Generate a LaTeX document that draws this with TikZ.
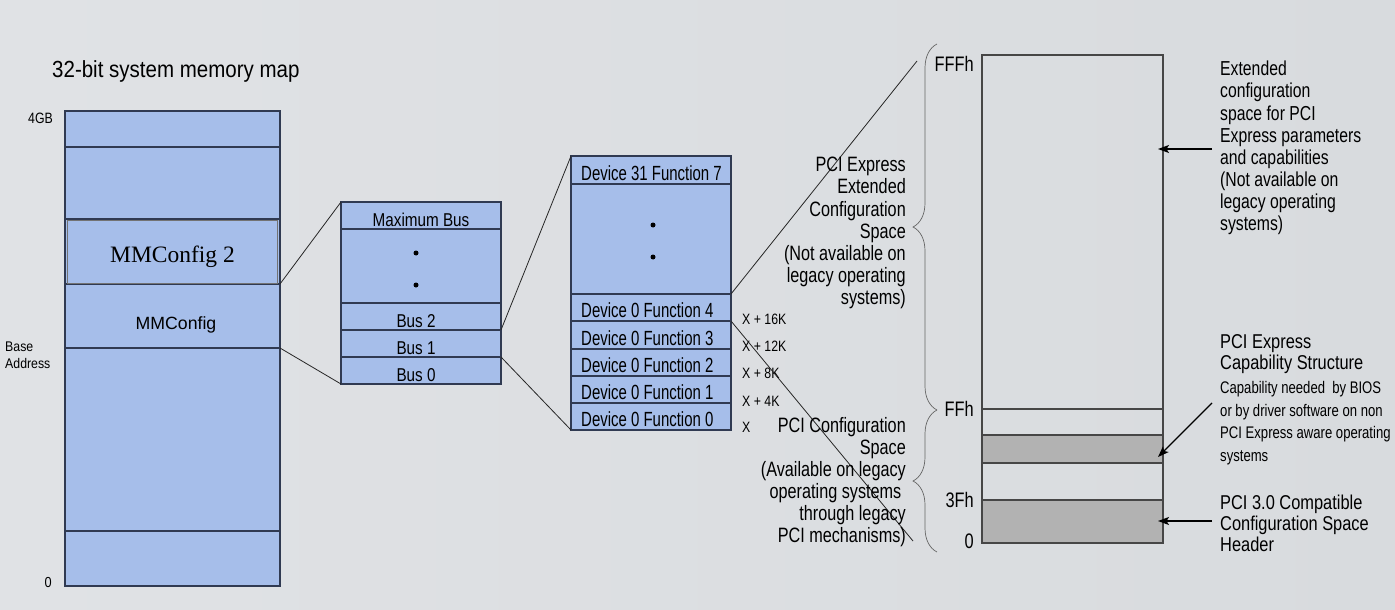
\documentclass[tikz,border=0pt]{standalone}
\usepackage{fontspec}
\setmainfont{Liberation Sans}
\newfontfamily\fA[FakeStretch=0.73]{Liberation Sans}
\newfontfamily\fB[FakeStretch=0.78]{Liberation Sans}
\newfontfamily\fC[FakeStretch=0.82]{Liberation Sans}
\newfontfamily\fD[FakeStretch=0.88]{Liberation Sans}
\newfontfamily\tms{Liberation Serif}
\usetikzlibrary{decorations.pathreplacing,arrows.meta}
\definecolor{memblue}{RGB}{166,190,234}
\definecolor{memedge}{RGB}{48,58,82}
\definecolor{cfgedge}{RGB}{70,70,70}
\definecolor{cfggray}{RGB}{178,178,178}
\definecolor{bgl}{RGB}{224,226,229}
\definecolor{bgm}{RGB}{243,243,243}
\definecolor{bgr}{RGB}{216,219,222}
\newcommand{\fsz}[2]{\fontsize{#1}{#2}\selectfont}
\newcommand{\rbox}[6]{\node[#1, minimum width={#5-#3}, minimum height={#6-#4}] (#2) at ({(#3+#5)/2},{(#4+#6)/2}) {};}
\begin{document}
\begin{tikzpicture}[x=1pt,y=-1pt,
  mem/.style={rectangle, draw=memedge, line width=1.1pt, fill=memblue, inner sep=0pt, outer sep=0pt},
  cfg/.style={rectangle, draw=cfgedge, line width=1.1pt, inner sep=0pt, outer sep=0pt},
  cfgg/.style={cfg, fill=cfggray},
  devtxt/.style={font=\fA\fsz{20.5}{24}, inner sep=0pt, anchor=base west},
  bustxt/.style={font=\fC\fsz{18.6}{22}, inner sep=0pt, anchor=base},
  xtxt/.style={font=\fC\fsz{15}{18}, inner sep=0pt, anchor=base west},
  hextxt/.style={font=\fB\fsz{21}{24}, inner sep=0pt, anchor=base east},
  link/.style={draw=black!85, line width=0.8pt},
  arr/.style={draw=black, line width=1.1pt, -{Stealth[length=11pt,width=8pt,inset=2.5pt]}},
  brc/.style={decorate, decoration={brace, amplitude=24pt}, draw=black!60, line width=0.7pt},
  lbl/.style={inner sep=0pt},
  dot/.style={circle, fill=black, inner sep=0pt, minimum size=5pt}]
\useasboundingbox (0,0) rectangle (1395,610);
\fill[left color=bgl, middle color=bgm, right color=bgr] (0,0) rectangle (1395,610);

% ---- 32-bit memory map
\node[lbl, anchor=north west, font=\fD\fsz{23.3}{27}] (title) at (52,60) {32-bit system memory map};
\rbox{mem}{m1}{65}{111}{280}{147}
\rbox{mem}{m2}{65}{147}{280}{219}
\rbox{mem}{m3}{65}{219}{280}{284}
\rbox{mem}{mmc}{65}{284}{280}{348}
\rbox{mem}{m5}{65}{348}{280}{531}
\rbox{mem}{m6}{65}{531}{280}{586}
\rbox{mem, draw=black!55, line width=0.9pt}{mmc2}{67.5}{220}{277.5}{283}
\node[lbl, anchor=base, font=\tms\fsz{23.5}{28}] (tmmc2) at (172.5,262) {MMConfig 2};
\node[lbl, anchor=base, font=\fsz{17.7}{21}] (tmmc) at (176,329) {MMConfig};
\node[lbl, anchor=north east, font=\fC\fsz{15}{18}] (l4gb) at (53,113) {4GB};
\node[lbl, anchor=north west, align=left, font=\fD\fsz{14}{17}] (lbase) at (5,342) {Base\\Address};
\node[lbl, anchor=north east, font=\fD\fsz{14.5}{17}] (lzero) at (52,577) {0};

% ---- buses
\rbox{mem}{bmax}{341}{202}{501}{229}
\rbox{mem}{bdots}{341}{229}{501}{303}
\rbox{mem}{b2}{341}{303}{501}{330}
\rbox{mem}{b1}{341}{330}{501}{357}
\rbox{mem}{b0}{341}{357}{501}{384}
\node[bustxt] (tbmax) at ([yshift=2.5pt]bmax.south) {Maximum Bus};
\node[bustxt] (tb2) at ([xshift=-5pt,yshift=3pt]b2.south) {Bus 2};
\node[bustxt] (tb1) at ([xshift=-5pt,yshift=3pt]b1.south) {Bus 1};
\node[bustxt] (tb0) at ([xshift=-5pt,yshift=3pt]b0.south) {Bus 0};
\node[dot] (bd1) at (416,253) {};
\node[dot] (bd2) at (416,285) {};

% ---- devices / functions
\rbox{mem}{d31}{571}{156}{731}{184}
\rbox{mem}{ddots}{571}{184}{731}{294}
\rbox{mem}{d4}{571}{294}{731}{321}
\rbox{mem}{d3}{571}{321}{731}{349}
\rbox{mem}{d2}{571}{349}{731}{376}
\rbox{mem}{d1}{571}{376}{731}{403}
\rbox{mem}{d0}{571}{403}{731}{430}
\node[devtxt] (td31) at ([xshift=10pt,yshift=4pt]d31.south west) {Device 31 Function 7};
\node[devtxt] (td4) at ([xshift=10pt,yshift=4pt]d4.south west) {Device 0 Function 4};
\node[devtxt] (td3) at ([xshift=10pt,yshift=4pt]d3.south west) {Device 0 Function 3};
\node[devtxt] (td2) at ([xshift=10pt,yshift=4pt]d2.south west) {Device 0 Function 2};
\node[devtxt] (td1) at ([xshift=10pt,yshift=4pt]d1.south west) {Device 0 Function 1};
\node[devtxt] (td0) at ([xshift=10pt,yshift=4pt]d0.south west) {Device 0 Function 0};
\node[dot] (dd1) at (653,225) {};
\node[dot] (dd2) at (653,257) {};
\node[xtxt] (x16) at (742,324) {X + 16K};
\node[xtxt] (x12) at (742,351) {X + 12K};
\node[xtxt] (x8) at (742,378) {X + 8K};
\node[xtxt] (x4) at (742,406) {X + 4K};
\node[xtxt] (x0) at (742,432) {X};

% ---- connectors
\draw[link] (m3.south east) -- (bmax.north west);
\draw[link] (mmc.south east) -- (b0.south west);
\draw[link] (b2.south east) -- (d31.north west);
\draw[link] (b1.south east) -- (d0.south west);
\coordinate (topend) at (917,61);
\coordinate (botend) at (913,541);
\draw[link] (d4.north east) -- (topend);
\draw[link] (d4.south east) -- (botend);

% ---- braces and their labels
\draw[brc] (937,410) -- (937,44);
\draw[brc] (937,552) -- (937,410);
\node[lbl, anchor=north east, align=right, font=\fB\fsz{20.8}{22.2}] (pcielbl) at (906,157)
  {PCI Express\\Extended\\Configuration\\Space\\(Not available on\\legacy operating\\systems)};
\node[lbl, anchor=north east, align=right, font=\fB\fsz{20.8}{22.1}] (pcilbl) at (906,417)
  {PCI Configuration\\Space\\(Available on legacy\\operating systems\kern4.5pt\\through legacy\\PCI mechanisms)};

% ---- configuration space
\rbox{cfg}{cext}{982}{55}{1163}{409}
\rbox{cfg}{cg1}{982}{409}{1163}{435}
\rbox{cfgg}{ccap}{982}{435}{1163}{463}
\rbox{cfg}{cg2}{982}{463}{1163}{500}
\rbox{cfgg}{chdr}{982}{500}{1163}{543}
\node[hextxt] (lfff) at (974,72) {FFFh};
\node[hextxt] (lff) at (974,416) {FFh};
\node[hextxt] (l3f) at (974,507) {3Fh};
\node[hextxt] (l0) at (974,548) {0};

% ---- right descriptions
\node[lbl, anchor=north west, align=left, font=\fB\fsz{20.2}{22.1}] (extlbl) at (1220,61)
  {Extended\\configuration\\space for PCI\\Express parameters\\and capabilities\\(Not available on\\legacy operating\\systems)};
\node[lbl, anchor=north west, align=left, font=\fC\fsz{20}{21.6}] (caplbl) at (1220,334)
  {PCI Express\\Capability Structure};
\node[lbl, anchor=north west, align=left, font=\fB\fsz{16.8}{22.8}] (capsmall) at (1220,381)
  {Capability needed\ \ by BIOS\\or by driver software on non\\PCI Express aware operating\\systems};
\node[lbl, anchor=north west, align=left, font=\fC\fsz{20}{21}] (hdrlbl) at (1220,495)
  {PCI 3.0 Compatible\\Configuration Space\\Header};
\coordinate (a1s) at (1212,149);
\coordinate (a1e) at (1158,149);
\coordinate (a2s) at (1212,403);
\coordinate (a2e) at (1158,457);
\coordinate (a3s) at (1212,521);
\coordinate (a3e) at (1158,521);
\draw[arr] (a1s) -- (a1e);
\draw[arr] (a2s) -- (a2e);
\draw[arr] (a3s) -- (a3e);
\end{tikzpicture}
\end{document}
